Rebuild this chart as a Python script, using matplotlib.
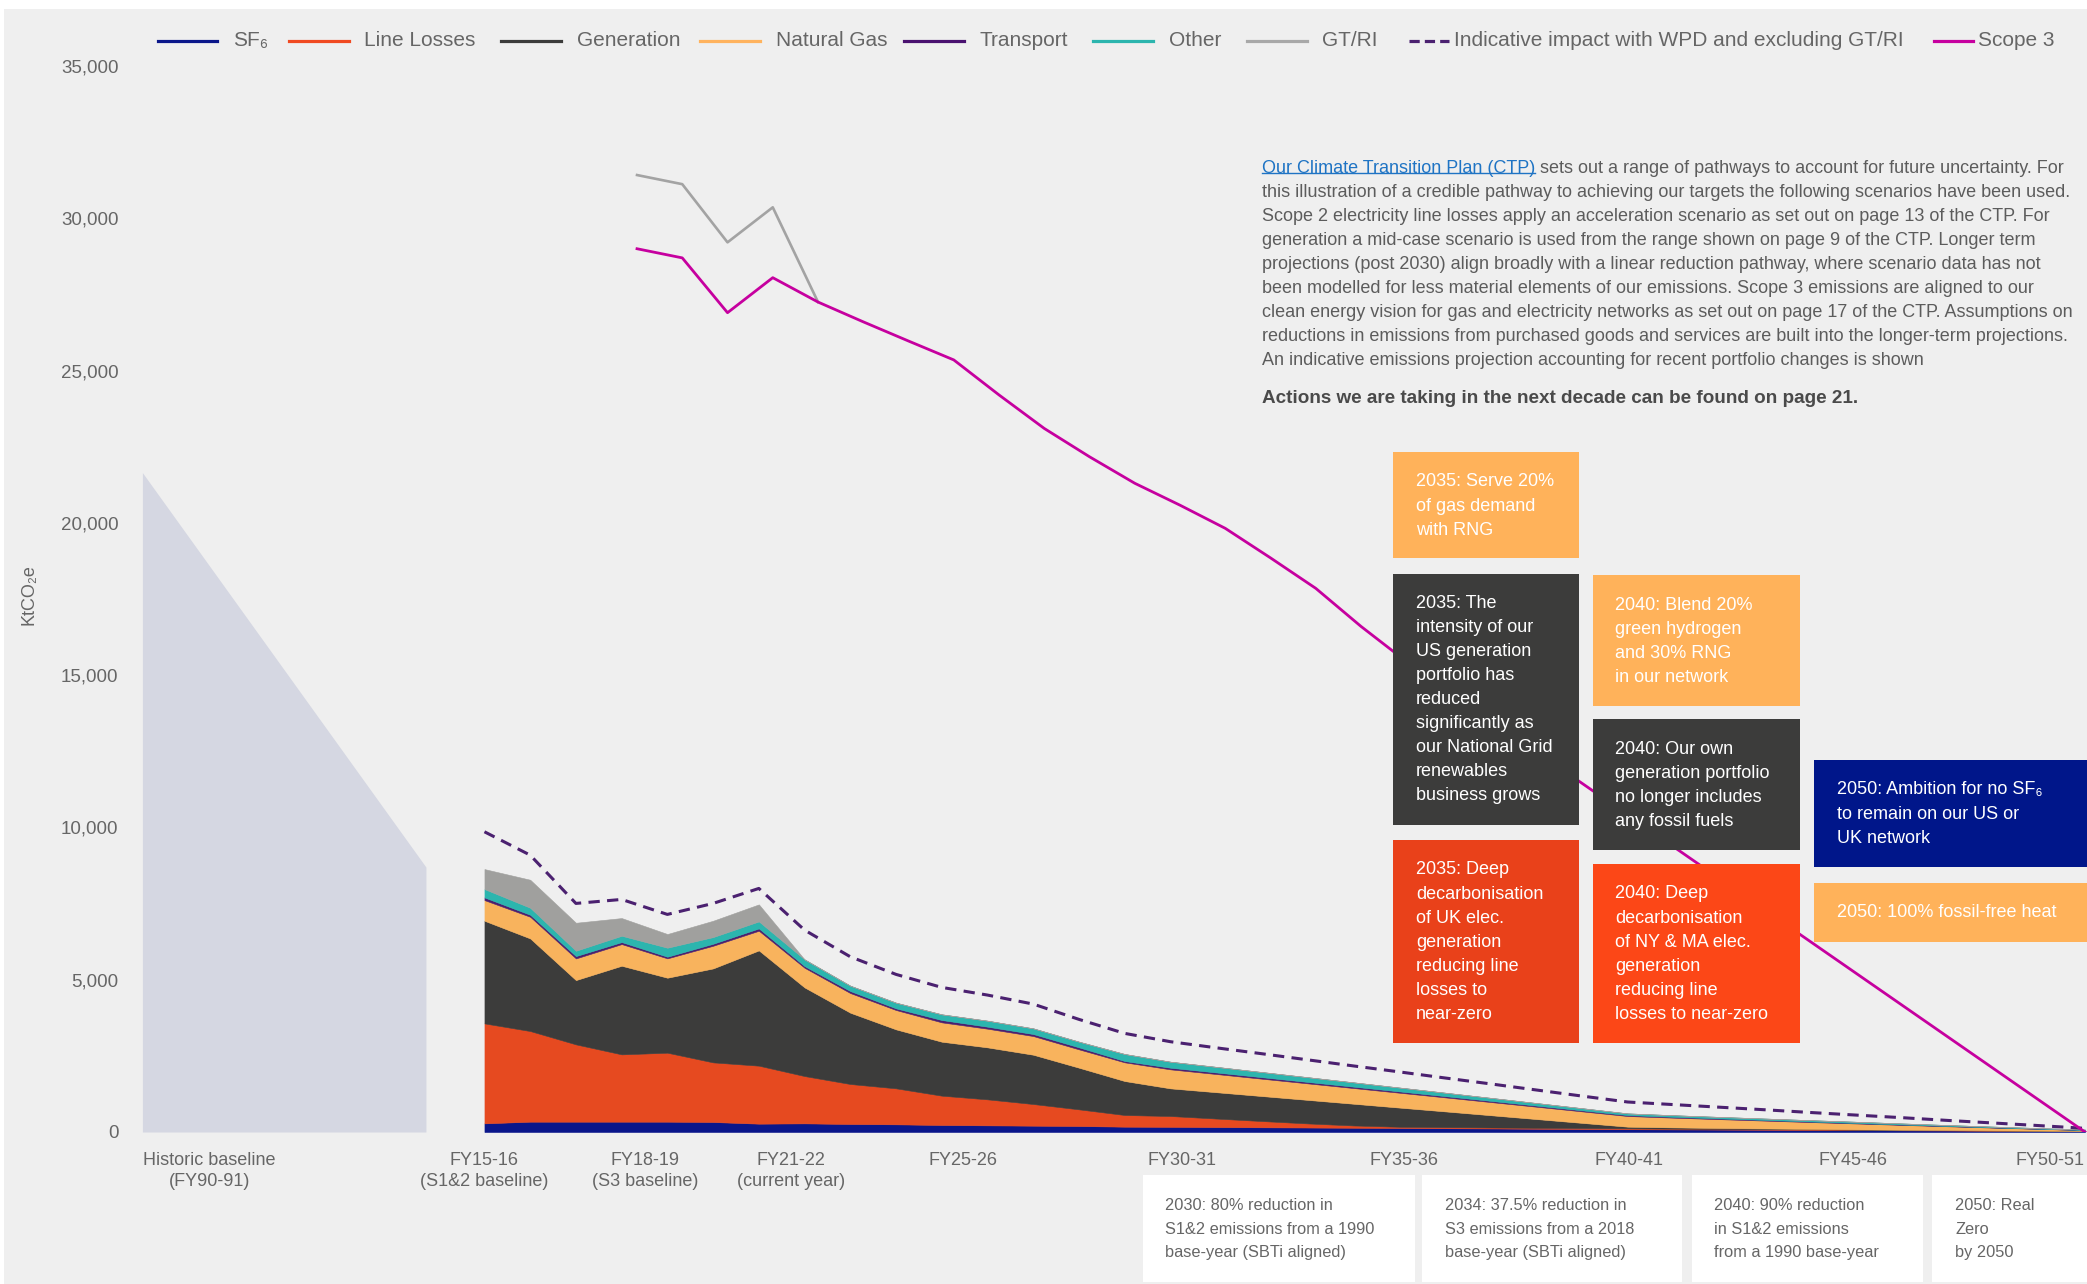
import matplotlib
matplotlib.use("Agg")
import matplotlib.pyplot as plt
from matplotlib.lines import Line2D
from matplotlib.patches import Rectangle
import numpy as np

# ---------------- data ----------------
years = [f"FY{y % 100:02d}-{(y + 1) % 100:02d}" for y in range(2015, 2051)]  # FY15-16 .. FY50-51

sf6 = [284, 339, 339, 339, 339, 328, 274, 284, 263, 252,
       230, 219, 208, 197, 175, 170, 162, 155, 147, 140,
       132, 124, 116, 108, 100, 92, 86, 80, 74, 68,
       62, 56, 50, 44, 38, 30]
line_losses = [3282, 2976, 2538, 2210, 2265, 1958, 1904, 1553, 1313, 1182,
               963, 853, 711, 547, 383, 355, 280, 205, 135, 75,
               40, 35, 32, 30, 30, 28, 25, 22, 20, 17,
               14, 11, 8, 6, 4, 2]
generation = [3370, 3041, 2111, 2910, 2462, 3085, 3785, 2910, 2341, 1936,
              1772, 1707, 1619, 1368, 1116, 908, 865, 821, 773, 714,
              631, 519, 404, 288, 170, 55, 40, 30, 22, 15,
              10, 6, 4, 2, 1, 0]
natural_gas = [678, 711, 711, 711, 635, 744, 645, 645, 645, 635,
               635, 613, 613, 602, 613, 624, 597, 569, 542, 515,
               488, 460, 432, 405, 378, 350, 320, 290, 258, 226,
               194, 160, 126, 92, 60, 30]
transport = [88, 66, 77, 66, 55, 66, 77, 55, 66, 55,
             77, 66, 66, 66, 44, 54, 52, 50, 48, 46,
             44, 42, 40, 37, 34, 31, 28, 25, 22, 19,
             16, 13, 10, 8, 5, 3]
other = [274, 230, 175, 208, 295, 219, 230, 219, 175, 186,
         186, 197, 186, 186, 230, 197, 183, 169, 155, 141,
         126, 112, 98, 84, 70, 55, 52, 49, 46, 43,
         40, 35, 30, 25, 20, 15]
gt_ri = [656, 919, 919, 580, 449, 536, 558, 0, 0, 0,
         0, 0, 0, 0, 0, 0, 0, 0, 0, 0,
         0, 0, 0, 0, 0, 0, 0, 0, 0, 0,
         0, 0, 0, 0, 0, 0]
indicative_wpd = [9857, 9091, 7505, 7636, 7144, 7505, 7997, 6630, 5754, 5175,
                  4748, 4496, 4201, 3698, 3238, 2965, 2765, 2570, 2370, 2170,
                  1975, 1775, 1580, 1380, 1180, 985, 900, 815, 730, 640,
                  555, 470, 380, 295, 210, 120]

scope3_years = years[3:]  # FY18-19 .. FY50-51
scope3 = [29000, 28700, 26900, 28050, 27250, 26600, 25970, 25350, 24200, 23100,
          22170, 21300, 20580, 19820, 18850, 17850, 16600, 15450, 14420, 13390,
          12360, 11330, 10300, 9270, 8240, 7210, 6180, 5150, 4120, 3090,
          2060, 1030, 0]
scope3_incl_gtri = [31420, 31120, 29210, 30360, 27250]  # FY18-19 .. FY22-23

historic_baseline = [21650, 8700]  # FY90-91 wedge (left / right edge values)

tick_labels = ["Historic baseline\n(FY90-91)", "FY15-16\n(S1&2 baseline)", "FY18-19\n(S3 baseline)",
               "FY21-22\n(current year)", "FY25-26", "FY30-31", "FY35-36", "FY40-41",
               "FY45-46", "FY50-51"]
y_ticks = [0, 5000, 10000, 15000, 20000, 25000, 30000, 35000]

# ---------------- styling ----------------
W, H, DPI = 2087, 1284, 100
BG = "#efefef"
C_SF6 = "#0a168a"
C_LL = "#e64a20"
C_GEN = "#3c3c3b"
C_NG = "#f8b35d"
C_TR = "#4b1f6f"
C_OTH = "#2cb5ae"
C_GT = "#a0a09e"
C_DASH = "#4b2170"
C_S3 = "#c6009f"
TXT = "#666666"

plt.rcParams["font.family"] = ["Liberation Sans", "DejaVu Sans"]


def fx(x):
    return x / W


def fy(y):
    return 1 - y / H


fig = plt.figure(figsize=(W / DPI, H / DPI), dpi=DPI, facecolor=BG)
fig.add_artist(Rectangle((0, fy(9)), 1, 9 / H, transform=fig.transFigure, color="white", lw=0, zorder=0))
fig.add_artist(Rectangle((0, 0), 4 / W, 1, transform=fig.transFigure, color="white", lw=0, zorder=0))

ax_left, ax_right, ax_top, ax_bot = 128, 2087, 66, 1132
ax = fig.add_axes([fx(ax_left), fy(ax_bot), (ax_right - ax_left) / W, (ax_bot - ax_top) / H])
ax.set_facecolor("none")
ax.set_xlim(-7.795, 35.044)
ax.set_ylim(0, 35000)
for s in ax.spines.values():
    s.set_visible(False)

# historic baseline wedge
hist_x = [-7.48, -1.28]
ax.fill_between(hist_x, historic_baseline, 0, color="#d5d7e2", lw=0)

# stacked areas
x = np.arange(len(years))
polys = ax.stackplot(x, sf6, line_losses, generation, natural_gas, transport, other, gt_ri,
                     colors=[C_SF6, C_LL, C_GEN, C_NG, C_TR, C_OTH, C_GT])
for p in polys:
    p.set_edgecolor(p.get_facecolor())
    p.set_linewidth(0.4)

ax.plot(x, indicative_wpd, color=C_DASH, lw=2.2, dashes=(3.7, 2.4), zorder=3)

# scope 3 lines on their own horizontal scale
ax3 = ax.twiny()
ax3.set_xlim(-11.249, 32.044)
ax3.axis("off")
xs3 = np.arange(len(scope3_years))
ax3.plot(xs3[:len(scope3_incl_gtri)], scope3_incl_gtri, color="#a3a3a3", lw=1.9)
ax3.plot(xs3, scope3, color=C_S3, lw=2.0)

# ticks
tick_pos = [-6.02, 0.0, 3.52, 6.71, 10.46, 15.25, 20.1, 25.02, 29.93, 35.0]
ax.set_xticks(tick_pos)
ax.set_xticklabels(tick_labels, fontsize=13, color=TXT, linespacing=1.3)
ax.get_xticklabels()[-1].set_horizontalalignment("right")
ax.tick_params(axis="x", length=0, pad=14.5)
ax.set_yticks(y_ticks)
ax.set_yticklabels([f"{v:,}" for v in y_ticks], fontsize=13.5, color=TXT)
ax.tick_params(axis="y", length=0, pad=6.8)

fig.text(fx(29), fy(595), "KtCO₂e", rotation=90, ha="center", va="center", fontsize=13, color=TXT)

# legend (manual)
legend_items = [
    (158, 217, 233, "SF₆", C_SF6, None),
    (289, 349, 364, "Line Losses", "#f04a22", None),
    (501, 561, 577, "Generation", C_GEN, None),
    (700, 760, 776, "Natural Gas", "#ffb35e", None),
    (904, 964, 979, "Transport", "#4a1270", None),
    (1093, 1153, 1169, "Other", C_OTH, None),
    (1247, 1307, 1322, "GT/RI", "#a8a8a8", None),
    (1409, 1449, 1454, "Indicative impact with WPD and excluding GT/RI", C_DASH, (3.2, 1.6)),
    (1934, 1973, 1978, "Scope 3", C_S3, None),
]
for x0, x1, tx, label, col, dash in legend_items:
    ln = Line2D([fx(x0), fx(x1)], [fy(41), fy(41)], transform=fig.transFigure, color=col, lw=2.3)
    if dash:
        ln.set_dashes(dash)
    fig.add_artist(ln)
    fig.text(fx(tx), fy(40), label, fontsize=15, color=TXT, va="center", ha="left")

# paragraph
para_lines = [
    " sets out a range of pathways to account for future uncertainty. For",
    "this illustration of a credible pathway to achieving our targets the following scenarios have been used.",
    "Scope 2 electricity line losses apply an acceleration scenario as set out on page 13 of the CTP. For",
    "generation a mid-case scenario is used from the range shown on page 9 of the CTP. Longer term",
    "projections (post 2030) align broadly with a linear reduction pathway, where scenario data has not",
    "been modelled for less material elements of our emissions. Scope 3 emissions are aligned to our",
    "clean energy vision for gas and electricity networks as set out on page 17 of the CTP. Assumptions on",
    "reductions in emissions from purchased goods and services are built into the longer-term projections.",
    "An indicative emissions projection accounting for recent portfolio changes is shown",
]
PFS = 12.95
PCOL = "#5c5c5c"
renderer = fig.canvas.get_renderer()
link = fig.text(fx(1262), fy(168.3), "Our Climate Transition Plan (CTP)", fontsize=PFS, color="#1f74c4",
                va="center", ha="left")
bb = link.get_window_extent(renderer=renderer)
fig.text(bb.x1 / W, fy(168.3), para_lines[0], fontsize=PFS, color=PCOL, va="center", ha="left")
uy = bb.y0 + 0.2 * bb.height
fig.add_artist(Line2D([bb.x0 / W, bb.x1 / W], [uy / H, uy / H], transform=fig.transFigure,
                      color="#1f74c4", lw=1.0))
for i, t in enumerate(para_lines[1:], start=1):
    fig.text(fx(1262), fy(168.3 + 24 * i), t, fontsize=PFS, color=PCOL, va="center", ha="left")
fig.text(fx(1262), fy(398.3), "Actions we are taking in the next decade can be found on page 21.",
         fontsize=13.6, color="#4a4a4a", fontweight="bold", va="center", ha="left")

# milestone boxes
ORANGE = "#ffb25a"
DARK = "#3c3c3b"
NAVY = "#00168a"
RED1 = "#e9411a"
RED2 = "#fc4717"
boxes = [
    (1393, 452, 1579, 558, ORANGE, 1416, 482, ["2035: Serve 20%", "of gas demand", "with RNG"]),
    (1393, 574, 1579, 825, DARK, 1416, 603, ["2035: The", "intensity of our", "US generation", "portfolio has",
                                             "reduced", "significantly as", "our National Grid",
                                             "renewables", "business grows"]),
    (1593, 575, 1800, 706, ORANGE, 1615, 605, ["2040: Blend 20%", "green hydrogen", "and 30% RNG",
                                               "in our network"]),
    (1593, 719, 1800, 850, DARK, 1615, 749.3, ["2040: Our own", "generation portfolio", "no longer includes",
                                               "any fossil fuels"]),
    (1814, 760, 2087, 867, NAVY, 1837, 790, ["2050: Ambition for no SF₆", "to remain on our US or", "UK network"]),
    (1814, 883, 2087, 942, ORANGE, 1837, 912.7, ["2050: 100% fossil-free heat"]),
    (1393, 840, 1579, 1043, RED1, 1416, 870, ["2035: Deep", "decarbonisation", "of UK elec.", "generation",
                                              "reducing line", "losses to", "near-zero"]),
    (1593, 864, 1800, 1043, RED2, 1615, 894, ["2040: Deep", "decarbonisation", "of NY & MA elec.",
                                              "generation", "reducing line", "losses to near-zero"]),
]
for x0, y0, x1, y1, col, tx, ty, lines in boxes:
    fig.add_artist(Rectangle((fx(x0), fy(y1)), (x1 - x0) / W, (y1 - y0) / H, transform=fig.transFigure,
                             color=col, lw=0, zorder=2))
    for j, t in enumerate(lines):
        fig.text(fx(tx), fy(ty + 24.1 * j), t, fontsize=13, color="white", va="center", ha="left", zorder=4)

# target boxes at bottom
targets = [
    (1143, 1175, 1415, 1282, 1165, ["2030: 80% reduction in", "S1&2 emissions from a 1990", "base-year (SBTi aligned)"]),
    (1422, 1175, 1682, 1282, 1445, ["2034: 37.5% reduction in", "S3 emissions from a 2018", "base-year (SBTi aligned)"]),
    (1692, 1175, 1923, 1282, 1714, ["2040: 90% reduction", "in S1&2 emissions", "from a 1990 base-year"]),
    (1932, 1175, 2087, 1282, 1955, ["2050: Real", "Zero", "by 2050"]),
]
for x0, y0, x1, y1, tx, lines in targets:
    fig.add_artist(Rectangle((fx(x0), fy(y1)), (x1 - x0) / W, (y1 - y0) / H, transform=fig.transFigure,
                             color="white", lw=0, zorder=2))
    for j, t in enumerate(lines):
        fig.text(fx(tx), fy(1205.7 + 23.3 * j), t, fontsize=11.8, color=TXT, va="center", ha="left", zorder=4)

fig.savefig("out.png", dpi=DPI, facecolor=BG)
